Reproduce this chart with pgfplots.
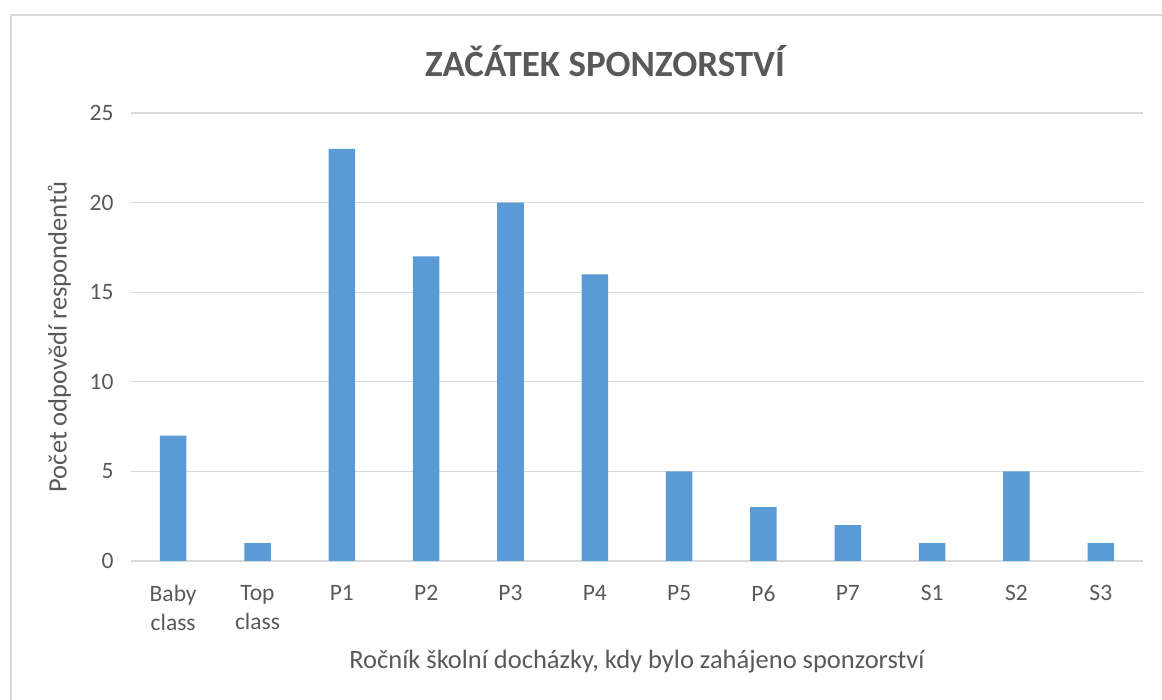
\documentclass[border=0pt]{standalone}
\usepackage{pgfplots}
\pgfplotsset{compat=1.18}
\usepackage{fontspec}
\setmainfont{Carlito}
\definecolor{barblue}{HTML}{5B9BD5}
\definecolor{gridgray}{HTML}{D9D9D9}
\definecolor{txtgray}{HTML}{595959}
\begin{document}
\begin{tikzpicture}[x=1pt,y=1pt]
\path[use as bounding box] (0,0) rectangle (1162,700);
\begin{scope}
\clip (0,0) rectangle (1162,700);
\draw[gridgray,line width=1.5pt] (11,685) rectangle (1200,-20);
\node[text=txtgray,font=\fontsize{37}{44}\selectfont\bfseries] at (605,639) {ZAČÁTEK SPONZORSTVÍ};
\begin{axis}[
  at={(131pt,139pt)}, anchor=south west,
  scale only axis, width=1012pt, height=448pt,
  xmin=-0.5, xmax=11.5, ymin=0, ymax=25,
  xtick={0,...,11},
  xticklabels={{Baby\\class},{Top\\class},P1,P2,P3,P4,P5,P6,P7,S1,S2,S3},
  xticklabel style={align=center, text=txtgray, font=\fontsize{23.5}{29}\selectfont, yshift=-21pt},
  ytick={0,5,...,25},
  yticklabel style={text=txtgray, font=\fontsize{23.5}{28}\selectfont, xshift=-14pt},
  /pgf/number format/assume math mode=true,
  major tick length=0pt,
  ymajorgrids, grid style={gridgray, line width=1.3pt},
  axis x line*=bottom, axis y line*=left,
  x axis line style={gridgray, line width=1.8pt, -},
  y axis line style={draw=none},
  xlabel={Ročník školní docházky, kdy bylo zahájeno sponzorství},
  ylabel={Počet odpovědí respondentů},
  label style={text=txtgray, font=\fontsize{26.5}{32}\selectfont},
  xlabel style={yshift=-12pt},
  ylabel style={yshift=12pt},
  clip=false,
]
\addplot[ybar, bar width=26.5pt, fill=barblue, draw=none] coordinates {
 (0,7) (1,1) (2,23) (3,17) (4,20) (5,16) (6,5) (7,3) (8,2) (9,1) (10,5) (11,1)
};
\end{axis}
\end{scope}
\end{tikzpicture}
\end{document}
